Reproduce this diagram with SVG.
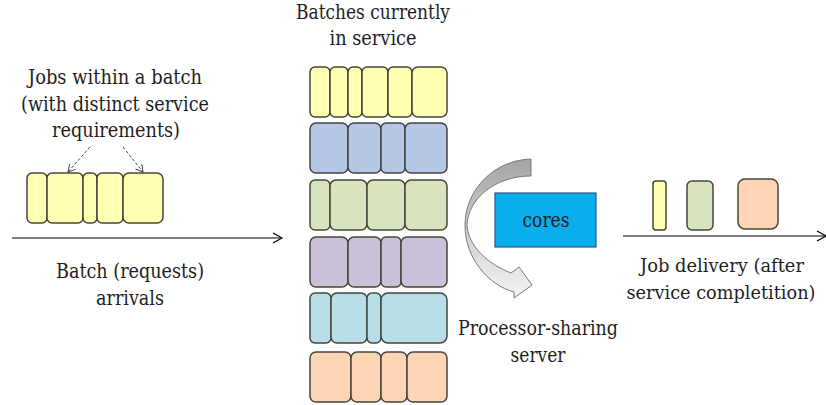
<svg xmlns="http://www.w3.org/2000/svg" width="826" height="405" viewBox="0 0 826 405">
<style>
text{font-family:'DejaVu Serif','Liberation Serif',serif;font-size:20px;fill:#1e1e1e;text-anchor:middle}
.sm{font-size:18px}
.j{stroke:#45453c;stroke-width:1.5}
.y{fill:#FFFFB4}.b{fill:#B4C7E7}.g{fill:#D7E4BD}.p{fill:#CCC1DA}.c{fill:#B7DEE8}.o{fill:#FBD5B5}
.ln{stroke:#000;stroke-width:1.2;fill:none}
.ds{stroke:#444;stroke-width:1;fill:none;stroke-dasharray:3 2}
</style>
<defs>
<marker id="open" markerWidth="12" markerHeight="12" refX="10" refY="6" orient="auto" markerUnits="userSpaceOnUse">
<path d="M1,1 L10,6 L1,11" fill="none" stroke="#000" stroke-width="1.1"/>
</marker>
<marker id="openS" markerWidth="10" markerHeight="10" refX="8" refY="5" orient="auto" markerUnits="userSpaceOnUse">
<path d="M1,1 L8,5 L1,9" fill="none" stroke="#444" stroke-width="1"/>
</marker>
<linearGradient id="ag" x1="0" y1="0" x2="0" y2="1">
<stop offset="0" stop-color="#a4a4a4"/>
<stop offset="0.5" stop-color="#cecece"/>
<stop offset="1" stop-color="#f4f4f4"/>
</linearGradient>
</defs>
<rect width="826" height="405" fill="#fff"/>

<g id="label-jobs">
<text x="115" y="84" textLength="174" lengthAdjust="spacingAndGlyphs">Jobs within a batch</text>
<text x="115" y="111" textLength="188" lengthAdjust="spacingAndGlyphs">(with distinct service</text>
<text x="116" y="137" textLength="128" lengthAdjust="spacingAndGlyphs">requirements)</text>
</g>
<g id="label-batches">
<text x="373" y="19" textLength="154" lengthAdjust="spacingAndGlyphs">Batches currently</text>
<text x="373" y="45" textLength="87" lengthAdjust="spacingAndGlyphs">in service</text>
</g>
<g id="label-arrivals">
<text x="130" y="278" textLength="148" lengthAdjust="spacingAndGlyphs">Batch (requests)</text>
<text x="130" y="305" textLength="68" lengthAdjust="spacingAndGlyphs">arrivals</text>
</g>
<g id="label-ps">
<text x="538" y="335" textLength="160" lengthAdjust="spacingAndGlyphs">Processor-sharing</text>
<text x="538" y="362" textLength="55" lengthAdjust="spacingAndGlyphs">server</text>
</g>
<g id="label-delivery">
<text class="sm" x="722" y="272" textLength="164" lengthAdjust="spacingAndGlyphs">Job delivery (after</text>
<text class="sm" x="721" y="299" textLength="189" lengthAdjust="spacingAndGlyphs">service completition)</text>
</g>

<g id="arriving-batch">
<rect class="j y" x="27" y="173" width="20" height="50" rx="5"/>
<rect class="j y" x="47" y="173" width="36" height="50" rx="5"/>
<rect class="j y" x="83" y="173" width="14" height="50" rx="5"/>
<rect class="j y" x="97" y="173" width="26" height="50" rx="5"/>
<rect class="j y" x="123" y="173" width="40" height="50" rx="6"/>
</g>

<g id="batch-yellow">
<rect class="j y" x="310" y="67" width="20" height="50" rx="5"/>
<rect class="j y" x="330" y="67" width="18" height="50" rx="5"/>
<rect class="j y" x="348" y="67" width="14" height="50" rx="5"/>
<rect class="j y" x="362" y="67" width="26" height="50" rx="5"/>
<rect class="j y" x="388" y="67" width="24" height="50" rx="5"/>
<rect class="j y" x="412" y="67" width="35" height="50" rx="6"/>
</g>
<g id="batch-blue">
<rect class="j b" x="310" y="123" width="38" height="50" rx="6"/>
<rect class="j b" x="348" y="123" width="33" height="50" rx="6"/>
<rect class="j b" x="381" y="123" width="24" height="50" rx="5"/>
<rect class="j b" x="405" y="123" width="42" height="50" rx="6"/>
</g>
<g id="batch-green">
<rect class="j g" x="310" y="180" width="20" height="50" rx="5"/>
<rect class="j g" x="330" y="180" width="37" height="50" rx="6"/>
<rect class="j g" x="367" y="180" width="38" height="50" rx="6"/>
<rect class="j g" x="405" y="180" width="42" height="50" rx="6"/>
</g>
<g id="batch-purple">
<rect class="j p" x="310" y="237" width="38" height="50" rx="6"/>
<rect class="j p" x="348" y="237" width="33" height="50" rx="6"/>
<rect class="j p" x="381" y="237" width="20" height="50" rx="5"/>
<rect class="j p" x="401" y="237" width="46" height="50" rx="6"/>
</g>
<g id="batch-cyan">
<rect class="j c" x="310" y="293" width="21" height="50" rx="5"/>
<rect class="j c" x="331" y="293" width="36" height="50" rx="6"/>
<rect class="j c" x="367" y="293" width="14" height="50" rx="5"/>
<rect class="j c" x="381" y="293" width="66" height="50" rx="7"/>
</g>
<g id="batch-orange">
<rect class="j o" x="310" y="352" width="41" height="50" rx="6"/>
<rect class="j o" x="351" y="352" width="30" height="50" rx="6"/>
<rect class="j o" x="381" y="352" width="26" height="50" rx="6"/>
<rect class="j o" x="407" y="352" width="40" height="50" rx="6"/>
</g>

<g id="server">
<path d="M531,159 C494,160 465,190 465,225 C465,258 488,285 514,292 L514,298 L532,285 L519,267 L511,273 C488,264 468,246 467,225 C468,199 495,176 531,176 Z" fill="url(#ag)" stroke="#7a7a7a" stroke-width="1"/>
<rect x="495" y="193" width="101" height="54" fill="#0AAEEB" stroke="#2F5597" stroke-width="1.2"/>
<text x="546" y="227" textLength="47" lengthAdjust="spacingAndGlyphs">cores</text>
</g>

<g id="delivered-jobs">
<rect class="j y" x="653" y="181" width="13" height="49" rx="3"/>
<rect class="j g" x="687" y="181" width="26" height="49" rx="5"/>
<rect class="j o" x="738" y="179" width="40" height="50" rx="7"/>
</g>

<g id="connectors">
<line class="ln" x1="12" y1="238" x2="282" y2="238" marker-end="url(#open)"/>
<line class="ln" x1="623" y1="236" x2="826" y2="236" marker-end="url(#open)"/>
<line class="ds" x1="90" y1="147" x2="68" y2="172" marker-end="url(#openS)"/>
<line class="ds" x1="123" y1="147" x2="143" y2="172" marker-end="url(#openS)"/>
</g>
</svg>
